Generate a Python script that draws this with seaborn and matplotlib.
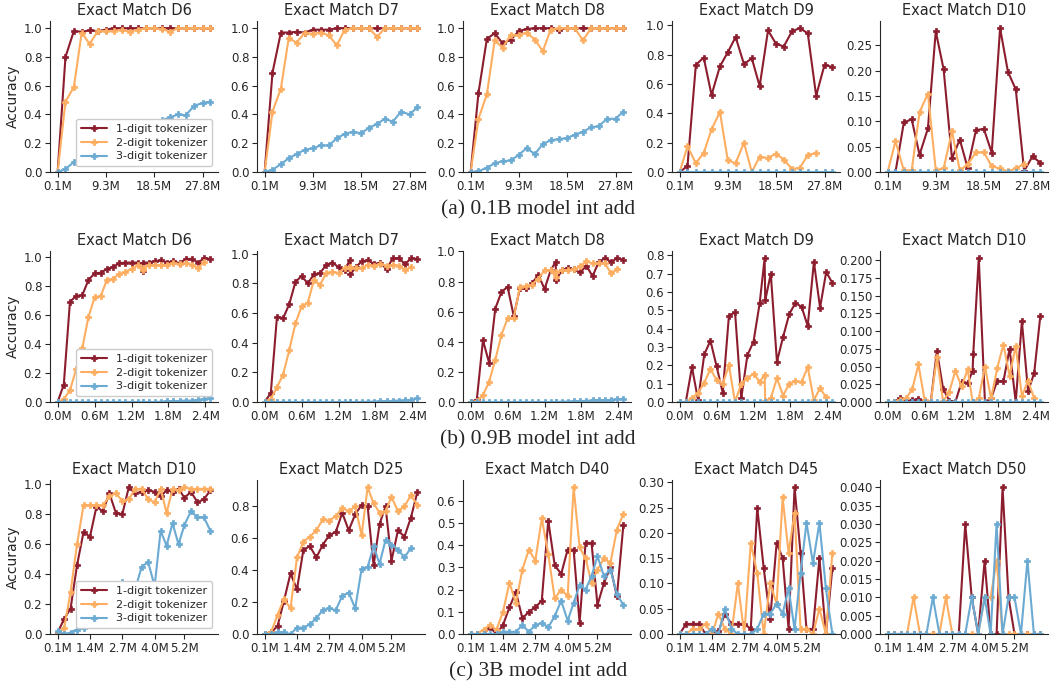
import seaborn as sns
import matplotlib.pyplot as plt
from matplotlib.ticker import MultipleLocator

# ---------------- data ----------------
tokenizers = ['1-digit tokenizer', '2-digit tokenizer', '3-digit tokenizer']
colors = ['#8C1D2E', '#FDAE61', '#6BAAD2']

# x positions (training steps, millions)
x_row1 = [0.1, 1.6, 3.2, 4.7, 6.2, 7.8, 9.3, 10.8, 12.4, 13.9,
          15.4, 17.0, 18.5, 20.0, 21.6, 23.1, 24.6, 26.2, 27.8, 29.3]
x_row2 = [0.0, 0.1, 0.2, 0.3, 0.4, 0.5, 0.6, 0.7, 0.8, 0.9, 1.0, 1.1, 1.2, 1.3,
          1.38, 1.39, 1.48, 1.58, 1.68, 1.78, 1.88, 1.98, 2.08, 2.18, 2.28, 2.38, 2.48]
x_row3 = [0.1, 0.36, 0.62, 0.88, 1.14, 1.4, 1.66, 1.92, 2.18, 2.44, 2.7, 2.96, 3.22,
          3.48, 3.74, 4.0, 4.24, 4.48, 4.72, 4.96, 5.2, 5.46, 5.72, 5.98, 6.24]

ticks_row1 = [0.1, 9.3, 18.5, 27.8]
ticks_row2 = [0.0, 0.6, 1.2, 1.8, 2.4]
ticks_row3 = [0.1, 1.4, 2.7, 4.0, 5.2]

titles_row1 = ['Exact Match D6', 'Exact Match D7', 'Exact Match D8', 'Exact Match D9', 'Exact Match D10']
titles_row2 = ['Exact Match D6', 'Exact Match D7', 'Exact Match D8', 'Exact Match D9', 'Exact Match D10']
titles_row3 = ['Exact Match D10', 'Exact Match D25', 'Exact Match D40', 'Exact Match D45', 'Exact Match D50']
captions = ['(a) 0.1B model int add', '(b) 0.9B model int add', '(c) 3B model int add']

# y tick spacing of each panel
ystep_row1 = [0.2, 0.2, 0.2, 0.2, 0.05]
ystep_row2 = [0.2, 0.2, 0.2, 0.1, 0.025]
ystep_row3 = [0.2, 0.2, 0.1, 0.05, 0.005]

# ---- (a) 0.1B ----
a_d6_1 = [0, 0.80, 0.98, 0.975, 0.985, 0.98, 0.99, 1.0, 1.0, 1.0, 1.0, 1.0, 1.0, 1.0, 1.0, 1.0, 1.0, 1.0, 1.0, 1.0]
a_d6_2 = [0, 0.49, 0.59, 0.97, 0.89, 0.98, 0.98, 0.98, 0.99, 0.975, 0.99, 1.0, 1.0, 0.995, 0.975, 1.0, 1.0, 1.0, 1.0, 1.0]
a_d6_3 = [0, 0.02, 0.07, 0.10, 0.145, 0.18, 0.20, 0.22, 0.23, 0.26, 0.29, 0.30, 0.33, 0.36, 0.38, 0.40, 0.395, 0.46, 0.48, 0.49]

a_d7_1 = [0, 0.69, 0.97, 0.97, 0.975, 0.97, 0.99, 0.99, 0.99, 1.0, 1.0, 1.0, 1.0, 1.0, 1.0, 1.0, 1.0, 1.0, 1.0, 1.0]
a_d7_2 = [0, 0.42, 0.58, 0.93, 0.90, 0.97, 0.96, 0.97, 0.95, 0.88, 0.99, 1.0, 1.0, 1.0, 0.94, 1.0, 1.0, 1.0, 1.0, 1.0]
a_d7_3 = [0, 0.015, 0.055, 0.095, 0.125, 0.155, 0.165, 0.185, 0.185, 0.235, 0.265, 0.28, 0.27, 0.305, 0.335, 0.37, 0.35, 0.42, 0.40, 0.45]

a_d8_1 = [0, 0.55, 0.925, 0.965, 0.895, 0.92, 0.98, 0.995, 1.0, 1.0, 1.0, 0.99, 1.0, 1.0, 1.0, 1.0, 1.0, 1.0, 1.0, 1.0]
a_d8_2 = [0, 0.37, 0.54, 0.915, 0.865, 0.955, 0.95, 0.97, 0.92, 0.84, 0.99, 1.0, 1.0, 1.0, 0.915, 1.0, 1.0, 1.0, 1.0, 1.0]
a_d8_3 = [0, 0.005, 0.03, 0.06, 0.075, 0.08, 0.12, 0.165, 0.125, 0.195, 0.22, 0.23, 0.235, 0.26, 0.28, 0.31, 0.32, 0.37, 0.37, 0.42]

a_d9_1 = [0, 0.04, 0.73, 0.78, 0.525, 0.72, 0.815, 0.92, 0.735, 0.775, 0.585, 0.965, 0.875, 0.855, 0.96, 0.98, 0.945, 0.52, 0.73, 0.715]
a_d9_2 = [0, 0.175, 0.06, 0.13, 0.29, 0.41, 0.08, 0.06, 0.20, 0.0, 0.105, 0.095, 0.125, 0.085, 0.02, 0.03, 0.115, 0.13]
a_d9_3 = [0] * 20

a_d10_1 = [0, 0.0, 0.098, 0.104, 0.034, 0.086, 0.278, 0.203, 0.027, 0.064, 0.008, 0.083, 0.085, 0.038, 0.284, 0.198, 0.163, 0.002, 0.031, 0.018]
a_d10_2 = [0, 0.061, 0.003, 0.003, 0.118, 0.155, 0.004, 0.007, 0.08, 0.003, 0.015, 0.039, 0.039, 0.011, 0.007, 0.001, 0.007, 0.016]
a_d10_3 = [0] * 20

# ---- (b) 0.9B ----
b_d6_1 = [0, 0.12, 0.69, 0.73, 0.735, 0.84, 0.885, 0.89, 0.915, 0.93, 0.955, 0.96, 0.96, 0.96,
          0.90, 0.96, 0.96, 0.97, 0.975, 0.96, 0.97, 0.955, 0.985, 0.985, 0.96, 0.99, 0.985]
b_d6_2 = [0, 0.02, 0.08, 0.225, 0.37, 0.585, 0.72, 0.73, 0.84, 0.85, 0.88, 0.895, 0.915, 0.94,
          0.91, 0.925, 0.94, 0.94, 0.94, 0.945, 0.955, 0.95, 0.955, 0.945, 0.92, 0.965]
b_d6_3 = [0, 0, 0, 0, 0, 0, 0, 0, 0, 0, 0, 0, 0, 0, 0, 0, 0, 0, 0.002, 0.004, 0.005, 0.008,
          0.01, 0.01, 0.015, 0.02, 0.025]

b_d7_1 = [0, 0.06, 0.575, 0.565, 0.66, 0.81, 0.85, 0.80, 0.86, 0.87, 0.925, 0.94, 0.91, 0.89,
          0.955, 0.86, 0.91, 0.95, 0.955, 0.93, 0.94, 0.895, 0.97, 0.97, 0.93, 0.97, 0.965]
b_d7_2 = [0, 0.02, 0.10, 0.185, 0.35, 0.53, 0.645, 0.67, 0.82, 0.79, 0.87, 0.88, 0.87, 0.905,
          0.91, 0.905, 0.905, 0.905, 0.925, 0.92, 0.93, 0.92, 0.925, 0.92, 0.89, 0.91]
b_d7_3 = [0, 0, 0, 0, 0, 0, 0, 0, 0, 0, 0, 0, 0, 0, 0, 0, 0, 0, 0.002, 0.003, 0.004, 0.005,
          0.008, 0.01, 0.012, 0.015, 0.025]

b_d8_1 = [0, 0.015, 0.41, 0.26, 0.62, 0.73, 0.765, 0.57, 0.755, 0.755, 0.79, 0.845, 0.75, 0.875,
          0.93, 0.81, 0.875, 0.89, 0.88, 0.86, 0.905, 0.835, 0.93, 0.955, 0.93, 0.955, 0.945]
b_d8_2 = [0, 0.005, 0.045, 0.135, 0.28, 0.445, 0.555, 0.56, 0.765, 0.77, 0.78, 0.82, 0.875, 0.875,
          0.83, 0.86, 0.875, 0.875, 0.88, 0.90, 0.935, 0.92, 0.92, 0.92, 0.855, 0.88]
b_d8_3 = [0, 0, 0, 0, 0, 0, 0, 0, 0, 0, 0, 0, 0, 0, 0, 0, 0.002, 0.003, 0.004, 0.005, 0.008,
          0.01, 0.012, 0.01, 0.015, 0.018, 0.022]

b_d9_1 = [0, 0.0, 0.19, 0.01, 0.26, 0.335, 0.195, 0.05, 0.47, 0.49, 0.02, 0.255, 0.33, 0.54,
          0.785, 0.555, 0.70, 0.22, 0.355, 0.48, 0.54, 0.52, 0.415, 0.765, 0.515, 0.71, 0.65]
b_d9_2 = [0, 0.0, 0.02, 0.05, 0.105, 0.18, 0.12, 0.10, 0.20, 0.0, 0.10, 0.13, 0.155, 0.11,
          0.15, 0.005, 0.02, 0.13, 0.035, 0.10, 0.115, 0.11, 0.19, 0.01, 0.075, 0.025]
b_d9_3 = [0] * 27

b_d10_1 = [0, 0, 0.005, 0.002, 0.003, 0.004, 0.001, 0.0, 0.072, 0.019, 0.002, 0.0, 0.028, 0.027,
           0.044, 0.068, 0.203, 0.0, 0.005, 0.030, 0.029, 0.075, 0.0, 0.114, 0.015, 0.041, 0.122]
b_d10_2 = [0, 0, 0.003, 0.005, 0.018, 0.053, 0.003, 0.0, 0.063, 0.001, 0.014, 0.044, 0.022, 0.046,
           0.0, 0.0, 0.005, 0.05, 0.005, 0.048, 0.081, 0.037, 0.079, 0.008, 0.030, 0.005]
b_d10_3 = [0] * 27

# ---- (c) 3B ----
c_d10_1 = [0.01, 0.10, 0.17, 0.46, 0.68, 0.65, 0.85, 0.82, 0.94, 0.81, 0.80, 0.98, 0.94, 0.95,
           0.96, 0.95, 0.92, 0.96, 0.95, 0.97, 0.91, 0.95, 0.88, 0.90, 0.96]
c_d10_2 = [0.0, 0.04, 0.28, 0.60, 0.86, 0.86, 0.86, 0.86, 0.92, 0.94, 0.89, 0.90, 0.97, 0.97,
           0.90, 0.88, 0.97, 0.81, 0.97, 0.96, 0.98, 0.97, 0.97, 0.97, 0.97]
c_d10_3 = [0.02, 0.0, 0.01, 0.03, 0.04, 0.10, 0.09, 0.25, 0.16, 0.24, 0.35, 0.30, 0.30, 0.45,
           0.48, 0.32, 0.69, 0.59, 0.74, 0.60, 0.73, 0.82, 0.78, 0.78, 0.69]

c_d25_1 = [0.0, 0.01, 0.05, 0.21, 0.38, 0.28, 0.53, 0.55, 0.48, 0.56, 0.62, 0.64, 0.76, 0.65,
           0.75, 0.81, 0.80, 0.43, 0.69, 0.80, 0.46, 0.65, 0.61, 0.73, 0.89]
c_d25_2 = [0.0, 0.01, 0.12, 0.22, 0.16, 0.48, 0.58, 0.61, 0.65, 0.72, 0.71, 0.74, 0.79, 0.77,
           0.80, 0.62, 0.92, 0.82, 0.76, 0.77, 0.86, 0.77, 0.80, 0.87, 0.81]
c_d25_3 = [0.0, 0.0, 0.01, 0.01, 0.0, 0.04, 0.04, 0.06, 0.10, 0.15, 0.16, 0.15, 0.24, 0.26,
           0.16, 0.41, 0.42, 0.55, 0.44, 0.59, 0.56, 0.53, 0.48, 0.54]

c_d40_1 = [0.0, 0.0, 0.0, 0.03, 0.0, 0.04, 0.12, 0.19, 0.07, 0.10, 0.12, 0.15, 0.51, 0.31,
           0.27, 0.38, 0.38, 0.05, 0.41, 0.41, 0.13, 0.23, 0.30, 0.17, 0.49]
c_d40_2 = [0.0, 0.0, 0.02, 0.04, 0.02, 0.10, 0.23, 0.14, 0.29, 0.38, 0.33, 0.52, 0.36, 0.16,
           0.20, 0.17, 0.66, 0.39, 0.34, 0.23, 0.29, 0.34, 0.32, 0.47, 0.54]
c_d40_3 = [0.0, 0.0, 0.0, 0.0, 0.0, 0.01, 0.01, 0.01, 0.04, 0.01, 0.04, 0.05, 0.03, 0.08,
           0.15, 0.06, 0.14, 0.22, 0.20, 0.26, 0.35, 0.26, 0.29, 0.18, 0.13]

c_d45_1 = [0.0, 0.02, 0.02, 0.02, 0.0, 0.0, 0.005, 0.04, 0.02, 0.02, 0.02, 0.01, 0.25, 0.13,
           0.03, 0.18, 0.15, 0.01, 0.29, 0.16, 0.01, 0.01, 0.15, 0.0, 0.13]
c_d45_2 = [0.0, 0.0, 0.01, 0.01, 0.02, 0.0, 0.04, 0.01, 0.0, 0.10, 0.0, 0.18, 0.12, 0.0,
           0.10, 0.06, 0.27, 0.16, 0.24, 0.01, 0.01, 0.0, 0.05, 0.0, 0.16]
c_d45_3 = [0.0, 0.0, 0.0, 0.0, 0.0, 0.01, 0.0, 0.05, 0.01, 0.0, 0.0, 0.0, 0.01, 0.04,
           0.04, 0.06, 0.04, 0.09, 0.01, 0.12, 0.22, 0.14, 0.22, 0.09, 0.0]

c_d50_1 = [0, 0, 0, 0, 0, 0, 0, 0, 0, 0, 0, 0, 0.03, 0.01, 0, 0.02, 0, 0, 0.04, 0.01, 0, 0, 0, 0, 0]
c_d50_2 = [0, 0, 0, 0, 0.01, 0, 0, 0, 0, 0.01, 0, 0, 0, 0, 0, 0.01, 0.01, 0.02, 0, 0, 0, 0, 0, 0, 0]
c_d50_3 = [0, 0, 0, 0, 0, 0, 0, 0.01, 0, 0, 0, 0, 0, 0.01, 0, 0.01, 0, 0.03, 0, 0.01, 0.01, 0, 0.02, 0, 0]

rows = [
    (x_row1, ticks_row1, titles_row1, ystep_row1,
     [(a_d6_1, a_d6_2, a_d6_3), (a_d7_1, a_d7_2, a_d7_3), (a_d8_1, a_d8_2, a_d8_3),
      (a_d9_1, a_d9_2, a_d9_3), (a_d10_1, a_d10_2, a_d10_3)]),
    (x_row2, ticks_row2, titles_row2, ystep_row2,
     [(b_d6_1, b_d6_2, b_d6_3), (b_d7_1, b_d7_2, b_d7_3), (b_d8_1, b_d8_2, b_d8_3),
      (b_d9_1, b_d9_2, b_d9_3), (b_d10_1, b_d10_2, b_d10_3)]),
    (x_row3, ticks_row3, titles_row3, ystep_row3,
     [(c_d10_1, c_d10_2, c_d10_3), (c_d25_1, c_d25_2, c_d25_3), (c_d40_1, c_d40_2, c_d40_3),
      (c_d45_1, c_d45_2, c_d45_3), (c_d50_1, c_d50_2, c_d50_3)]),
]

# ---------------- plotting ----------------
sns.set_style("ticks")
plt.rcParams['font.family'] = ['DejaVu Sans']

W, H = 1057, 690
fig = plt.figure(figsize=(W / 100, H / 100), dpi=100)

col_left = [50, 257, 463, 672, 880]
col_width = 168
row_top = [21, 251, 480]
row_bottom = [172, 402, 634]
caption_y = [210, 440, 672]

for r, (xs, ticks, titles, ysteps, panels) in enumerate(rows):
    for c, series in enumerate(panels):
        ax = fig.add_axes([col_left[c] / W, 1 - row_bottom[r] / H,
                           col_width / W, (row_bottom[r] - row_top[r]) / H])
        for name, vals, col in zip(tokenizers, series, colors):
            sns.lineplot(x=xs[:len(vals)], y=vals, color=col, label=name,
                         marker='P', markersize=4.5, markeredgecolor=col,
                         markeredgewidth=0.5, linewidth=1.5, ax=ax)
        ax.set_ylim(bottom=0)
        ax.yaxis.set_major_locator(MultipleLocator(ysteps[c]))
        ax.set_xticks(ticks)
        ax.set_xticklabels([f'{t:.1f}M' for t in ticks])
        ax.tick_params(labelsize=8.5, length=3.5, pad=2)
        ax.set_title(titles[c], fontsize=10.5, pad=4)
        if c == 0:
            ax.set_ylabel('Accuracy', fontsize=10, labelpad=3)
            ax.legend(loc='lower right', fontsize=8, frameon=True, framealpha=1,
                      edgecolor='#cccccc', handlelength=2.4, borderpad=0.45,
                      labelspacing=0.35, fancybox=True)
        else:
            ax.get_legend().remove()
        sns.despine(ax=ax)
    fig.text(538 / W, 1 - caption_y[r] / H, captions[r], ha='center', va='center',
             fontsize=15.5, family=['Liberation Serif', 'DejaVu Serif'])

fig.savefig('out.png', dpi=100)
